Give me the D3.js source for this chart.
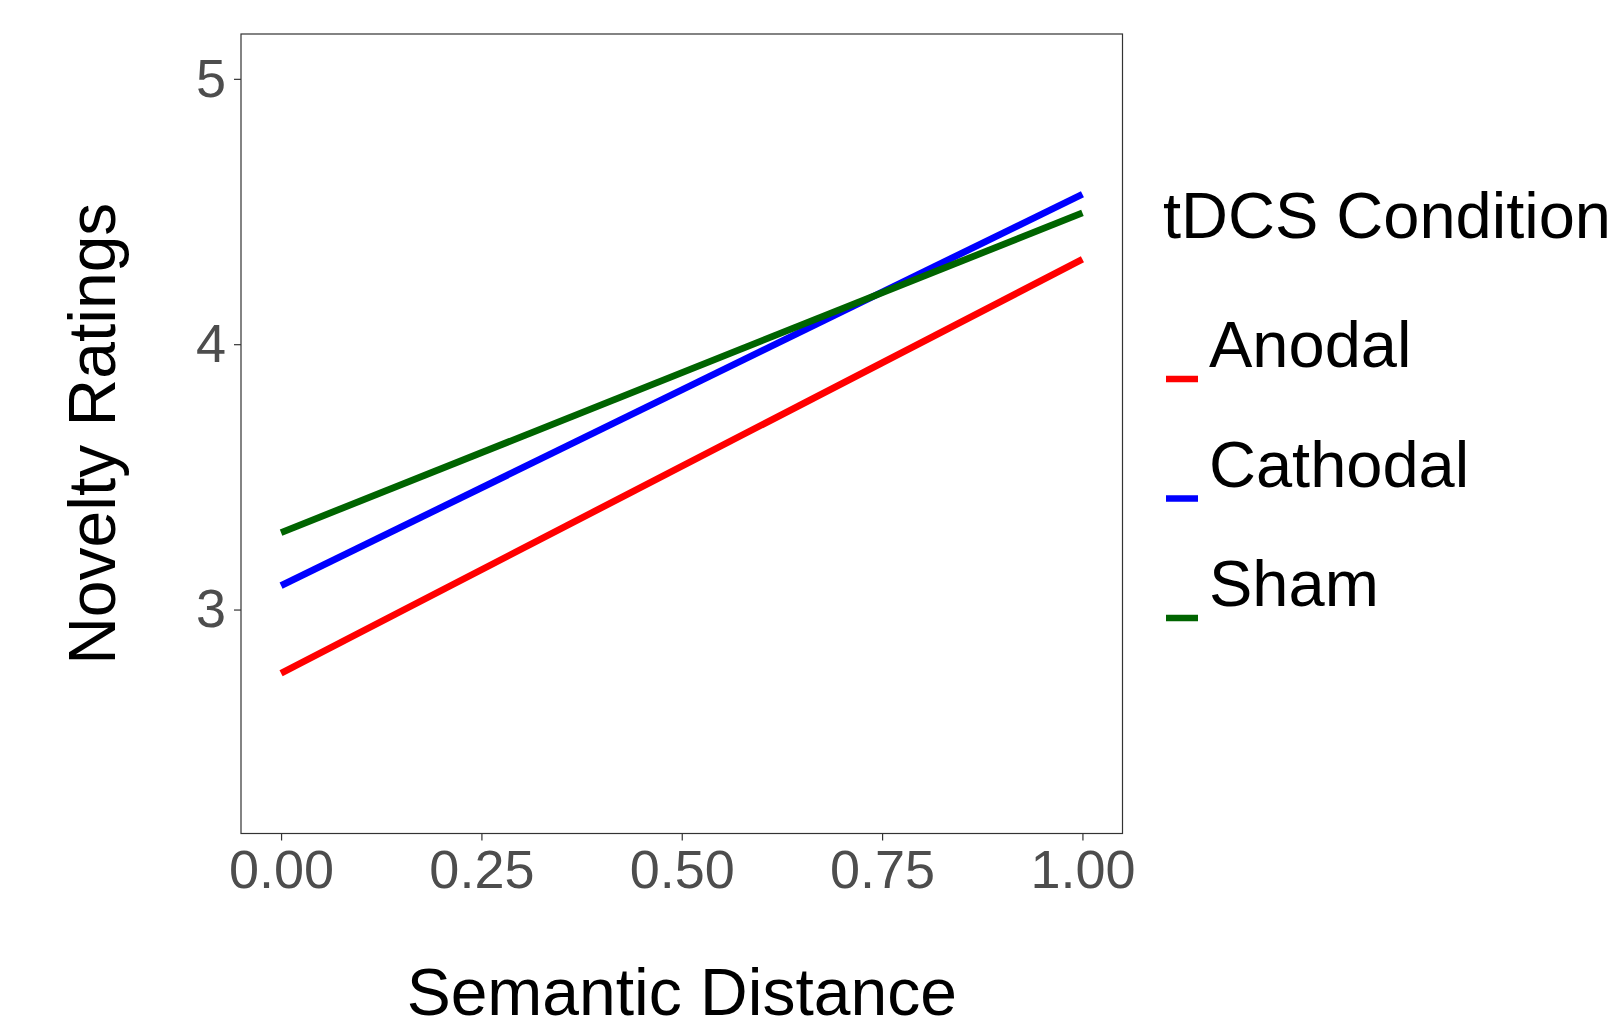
<!DOCTYPE html>
<html>
<head>
<meta charset="utf-8">
<script src="https://cdn.jsdelivr.net/npm/d3@7"></script>
<style>
  html, body { margin: 0; padding: 0; background: #fff; }
  svg { display: block; font-family: "Liberation Sans", Arial, Helvetica, sans-serif; }
</style>
</head>
<body>
<svg id="chart" width="1621" height="1024"></svg>
<script>
// ---- data ----
const categories = ["Anodal", "Cathodal", "Sham"];
const seriesColors = ["#FF0000", "#0000FF", "#006400"];
const xValues = [0, 1];
const anodalValues = [2.76, 4.32];
const cathodalValues = [3.09, 4.565];
const shamValues = [3.29, 4.495];
const xTicks = [0, 0.25, 0.5, 0.75, 1];
const yTicks = [3, 4, 5];
const xTitle = "Semantic Distance";
const yTitle = "Novelty Ratings";
const legendTitle = "tDCS Condition";

const seriesValues = [anodalValues, cathodalValues, shamValues];

// ---- layout ----
const panel = { left: 241, right: 1122.5, top: 34, bottom: 833.5 };
const svg = d3.select("#chart");

const x = d3.scaleLinear().domain([-0.05, 1.05]).range([panel.left, panel.right]);
const y = d3.scaleLinear().domain([2.156, 5.169]).range([panel.bottom, panel.top]);

// lines
const line = d3.line().x(d => x(d[0])).y(d => y(d[1]));
categories.forEach((c, i) => {
  const pts = xValues.map((xv, j) => [xv, seriesValues[i][j]]);
  svg.append("path")
    .datum(pts)
    .attr("d", line)
    .attr("fill", "none")
    .attr("stroke", seriesColors[i])
    .attr("stroke-width", 6.8);
});

// panel border
svg.append("rect")
  .attr("x", panel.left).attr("y", panel.top)
  .attr("width", panel.right - panel.left)
  .attr("height", panel.bottom - panel.top)
  .attr("fill", "none").attr("stroke", "#333333").attr("stroke-width", 1.2);

// x axis
const xAxis = d3.axisBottom(x).tickValues(xTicks).tickFormat(d3.format(".2f"))
  .tickSize(7).tickPadding(9).tickSizeOuter(0);
const gx = svg.append("g").attr("transform", `translate(0,${panel.bottom})`).call(xAxis);
gx.select(".domain").remove();
gx.selectAll(".tick line").attr("stroke", "#333333").attr("stroke-width", 1.2);
gx.selectAll(".tick text").attr("fill", "#4D4D4D").style("font-size", "54px")
  .style("font-family", '"Liberation Sans", Arial, Helvetica, sans-serif');

// y axis
const yAxis = d3.axisLeft(y).tickValues(yTicks).tickFormat(d3.format("d"))
  .tickSize(7).tickPadding(8).tickSizeOuter(0);
const gy = svg.append("g").attr("transform", `translate(${panel.left},0)`).call(yAxis);
gy.select(".domain").remove();
gy.selectAll(".tick line").attr("stroke", "#333333").attr("stroke-width", 1.2);
gy.selectAll(".tick text").attr("fill", "#4D4D4D").style("font-size", "54px")
  .style("font-family", '"Liberation Sans", Arial, Helvetica, sans-serif');

// axis titles
svg.append("text")
  .attr("x", (panel.left + panel.right) / 2).attr("y", 1015)
  .attr("text-anchor", "middle").attr("fill", "#000")
  .style("font-size", "66px").text(xTitle);

svg.append("text")
  .attr("transform", `translate(115,${(panel.top + panel.bottom) / 2}) rotate(-90)`)
  .attr("text-anchor", "middle").attr("fill", "#000")
  .style("font-size", "66px").text(yTitle);

// legend
svg.append("text")
  .attr("x", 1163).attr("y", 238)
  .attr("fill", "#000").style("font-size", "65px").text(legendTitle);

const legendY0 = 367, legendStep = 119.5;
categories.forEach((c, i) => {
  const by = legendY0 + i * legendStep;
  svg.append("line")
    .attr("x1", 1166).attr("x2", 1198)
    .attr("y1", by + 12).attr("y2", by + 12)
    .attr("stroke", seriesColors[i]).attr("stroke-width", 6.5);
  svg.append("text")
    .attr("x", 1209).attr("y", by)
    .attr("fill", "#000").style("font-size", "65px").text(c);
});
</script>
</body>
</html>
